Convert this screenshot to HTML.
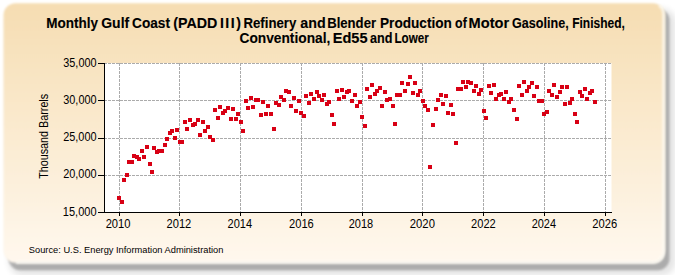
<!DOCTYPE html>
<html><head><meta charset="utf-8"><style>
html,body{margin:0;padding:0;background:#fff;width:675px;height:275px;overflow:hidden}
svg{display:block}
</style></head><body>
<svg width="675" height="275" viewBox="0 0 675 275">
<defs>
<linearGradient id="bg" x1="0" y1="0" x2="0" y2="1">
<stop offset="0" stop-color="#F6DDB2"/>
<stop offset="1" stop-color="#FFF8EE"/>
</linearGradient>
<filter id="sh" x="-10%" y="-10%" width="120%" height="120%"><feGaussianBlur stdDeviation="1.3"/></filter>
<filter id="sh2" x="-10%" y="-10%" width="120%" height="120%"><feGaussianBlur stdDeviation="3"/></filter>
<filter id="pb" filterUnits="userSpaceOnUse" x="0" y="0" width="675" height="275"><feGaussianBlur stdDeviation="0.9"/></filter>
<filter id="pb2" filterUnits="userSpaceOnUse" x="0" y="0" width="675" height="275"><feGaussianBlur stdDeviation="0.5"/></filter>
</defs>
<rect x="0" y="0" width="675" height="275" fill="#fff"/>
<rect x="8.5" y="8.5" width="667" height="267" rx="14" fill="#000" opacity="0.10" filter="url(#sh2)"/>
<rect x="8.5" y="8.5" width="661" height="261.8" rx="12" fill="#000" opacity="0.24" filter="url(#sh)"/>
<rect x="3.5" y="3.2" width="661.3" height="259.6" rx="12" fill="url(#bg)" filter="url(#pb)"/>
<path d="M 659 5.5 Q 663.8 8 663.8 15 L 663.8 250 Q 663.8 262.6 651.2 262.6 L 16 262.6" fill="none" stroke="#fffdf6" stroke-width="3" opacity="0.8" filter="url(#pb)"/>
<rect x="104.5" y="63" width="507" height="149" fill="#fff"/>
<g stroke="#ababab" stroke-width="1" stroke-dasharray="3,1" fill="none">
<line x1="104" y1="63.5" x2="611" y2="63.5"/>
<line x1="104" y1="100.5" x2="611" y2="100.5"/>
<line x1="104" y1="138.5" x2="611" y2="138.5"/>
<line x1="104" y1="175.5" x2="611" y2="175.5"/>
<line x1="119.5" y1="63" x2="119.5" y2="212"/>
<line x1="179.5" y1="63" x2="179.5" y2="212"/>
<line x1="240.5" y1="63" x2="240.5" y2="212"/>
<line x1="301.5" y1="63" x2="301.5" y2="212"/>
<line x1="362.5" y1="63" x2="362.5" y2="212"/>
<line x1="422.5" y1="63" x2="422.5" y2="212"/>
<line x1="483.5" y1="63" x2="483.5" y2="212"/>
<line x1="544.5" y1="63" x2="544.5" y2="212"/>
<line x1="605.5" y1="63" x2="605.5" y2="212"/>
</g>
<g stroke="#000" stroke-width="1" fill="none">
<line x1="104.5" y1="63" x2="104.5" y2="212"/>
<line x1="98" y1="212.5" x2="612" y2="212.5"/>
<line x1="98" y1="63.5" x2="104" y2="63.5"/>
<line x1="98" y1="100.5" x2="104" y2="100.5"/>
<line x1="98" y1="138.5" x2="104" y2="138.5"/>
<line x1="98" y1="175.5" x2="104" y2="175.5"/>
<line x1="98" y1="212.5" x2="104" y2="212.5"/>
<line x1="119.5" y1="212" x2="119.5" y2="216"/>
<line x1="179.5" y1="212" x2="179.5" y2="216"/>
<line x1="240.5" y1="212" x2="240.5" y2="216"/>
<line x1="301.5" y1="212" x2="301.5" y2="216"/>
<line x1="362.5" y1="212" x2="362.5" y2="216"/>
<line x1="422.5" y1="212" x2="422.5" y2="216"/>
<line x1="483.5" y1="212" x2="483.5" y2="216"/>
<line x1="544.5" y1="212" x2="544.5" y2="216"/>
<line x1="605.5" y1="212" x2="605.5" y2="216"/>
</g>
<g fill="#D80014" shape-rendering="crispEdges">
<rect x="117" y="196" width="4" height="4"/>
<rect x="120" y="200" width="4" height="4"/>
<rect x="122" y="178" width="4" height="4"/>
<rect x="125" y="173" width="4" height="4"/>
<rect x="127" y="160" width="4" height="4"/>
<rect x="130" y="160" width="4" height="4"/>
<rect x="132" y="154" width="4" height="4"/>
<rect x="135" y="155" width="4" height="4"/>
<rect x="137" y="157" width="4" height="4"/>
<rect x="140" y="149" width="4" height="4"/>
<rect x="142" y="155" width="4" height="4"/>
<rect x="145" y="145" width="4" height="4"/>
<rect x="148" y="162" width="4" height="4"/>
<rect x="150" y="170" width="4" height="4"/>
<rect x="152" y="146" width="4" height="4"/>
<rect x="155" y="150" width="4" height="4"/>
<rect x="157" y="149" width="4" height="4"/>
<rect x="160" y="149" width="4" height="4"/>
<rect x="163" y="143" width="4" height="4"/>
<rect x="165" y="137" width="4" height="4"/>
<rect x="168" y="131" width="4" height="4"/>
<rect x="170" y="129" width="4" height="4"/>
<rect x="173" y="136" width="4" height="4"/>
<rect x="175" y="128" width="4" height="4"/>
<rect x="178" y="140" width="4" height="4"/>
<rect x="180" y="140" width="4" height="4"/>
<rect x="183" y="120" width="4" height="4"/>
<rect x="185" y="127" width="4" height="4"/>
<rect x="188" y="118" width="4" height="4"/>
<rect x="191" y="123" width="4" height="4"/>
<rect x="193" y="122" width="4" height="4"/>
<rect x="196" y="118" width="4" height="4"/>
<rect x="198" y="133" width="4" height="4"/>
<rect x="201" y="120" width="4" height="4"/>
<rect x="203" y="129" width="4" height="4"/>
<rect x="206" y="125" width="4" height="4"/>
<rect x="208" y="135" width="4" height="4"/>
<rect x="211" y="138" width="4" height="4"/>
<rect x="213" y="108" width="4" height="4"/>
<rect x="216" y="116" width="4" height="4"/>
<rect x="218" y="105" width="4" height="4"/>
<rect x="221" y="111" width="4" height="4"/>
<rect x="223" y="109" width="4" height="4"/>
<rect x="226" y="106" width="4" height="4"/>
<rect x="229" y="117" width="4" height="4"/>
<rect x="231" y="107" width="4" height="4"/>
<rect x="234" y="117" width="4" height="4"/>
<rect x="236" y="112" width="4" height="4"/>
<rect x="239" y="120" width="4" height="4"/>
<rect x="241" y="129" width="4" height="4"/>
<rect x="244" y="99" width="4" height="4"/>
<rect x="246" y="106" width="4" height="4"/>
<rect x="249" y="96" width="4" height="4"/>
<rect x="251" y="105" width="4" height="4"/>
<rect x="254" y="98" width="4" height="4"/>
<rect x="256" y="98" width="4" height="4"/>
<rect x="259" y="113" width="4" height="4"/>
<rect x="261" y="100" width="4" height="4"/>
<rect x="264" y="112" width="4" height="4"/>
<rect x="266" y="104" width="4" height="4"/>
<rect x="269" y="112" width="4" height="4"/>
<rect x="272" y="127" width="4" height="4"/>
<rect x="274" y="101" width="4" height="4"/>
<rect x="277" y="103" width="4" height="4"/>
<rect x="279" y="95" width="4" height="4"/>
<rect x="282" y="98" width="4" height="4"/>
<rect x="284" y="89" width="4" height="4"/>
<rect x="287" y="90" width="4" height="4"/>
<rect x="289" y="104" width="4" height="4"/>
<rect x="292" y="96" width="4" height="4"/>
<rect x="294" y="109" width="4" height="4"/>
<rect x="297" y="99" width="4" height="4"/>
<rect x="299" y="111" width="4" height="4"/>
<rect x="302" y="114" width="4" height="4"/>
<rect x="304" y="94" width="4" height="4"/>
<rect x="307" y="101" width="4" height="4"/>
<rect x="309" y="92" width="4" height="4"/>
<rect x="312" y="97" width="4" height="4"/>
<rect x="315" y="90" width="4" height="4"/>
<rect x="317" y="94" width="4" height="4"/>
<rect x="320" y="98" width="4" height="4"/>
<rect x="322" y="93" width="4" height="4"/>
<rect x="325" y="102" width="4" height="4"/>
<rect x="327" y="100" width="4" height="4"/>
<rect x="330" y="113" width="4" height="4"/>
<rect x="332" y="122" width="4" height="4"/>
<rect x="335" y="89" width="4" height="4"/>
<rect x="337" y="97" width="4" height="4"/>
<rect x="340" y="88" width="4" height="4"/>
<rect x="342" y="95" width="4" height="4"/>
<rect x="345" y="90" width="4" height="4"/>
<rect x="347" y="89" width="4" height="4"/>
<rect x="350" y="99" width="4" height="4"/>
<rect x="353" y="93" width="4" height="4"/>
<rect x="355" y="104" width="4" height="4"/>
<rect x="358" y="100" width="4" height="4"/>
<rect x="360" y="115" width="4" height="4"/>
<rect x="363" y="124" width="4" height="4"/>
<rect x="365" y="87" width="4" height="4"/>
<rect x="368" y="95" width="4" height="4"/>
<rect x="370" y="83" width="4" height="4"/>
<rect x="373" y="92" width="4" height="4"/>
<rect x="375" y="89" width="4" height="4"/>
<rect x="378" y="86" width="4" height="4"/>
<rect x="380" y="104" width="4" height="4"/>
<rect x="383" y="90" width="4" height="4"/>
<rect x="385" y="98" width="4" height="4"/>
<rect x="388" y="97" width="4" height="4"/>
<rect x="391" y="104" width="4" height="4"/>
<rect x="393" y="122" width="4" height="4"/>
<rect x="395" y="93" width="4" height="4"/>
<rect x="398" y="93" width="4" height="4"/>
<rect x="400" y="81" width="4" height="4"/>
<rect x="403" y="89" width="4" height="4"/>
<rect x="406" y="82" width="4" height="4"/>
<rect x="408" y="75" width="4" height="4"/>
<rect x="411" y="91" width="4" height="4"/>
<rect x="413" y="81" width="4" height="4"/>
<rect x="416" y="93" width="4" height="4"/>
<rect x="418" y="89" width="4" height="4"/>
<rect x="421" y="99" width="4" height="4"/>
<rect x="423" y="104" width="4" height="4"/>
<rect x="426" y="108" width="4" height="4"/>
<rect x="428" y="165" width="4" height="4"/>
<rect x="431" y="123" width="4" height="4"/>
<rect x="434" y="107" width="4" height="4"/>
<rect x="436" y="98" width="4" height="4"/>
<rect x="439" y="93" width="4" height="4"/>
<rect x="441" y="102" width="4" height="4"/>
<rect x="444" y="94" width="4" height="4"/>
<rect x="446" y="111" width="4" height="4"/>
<rect x="449" y="103" width="4" height="4"/>
<rect x="451" y="112" width="4" height="4"/>
<rect x="454" y="141" width="4" height="4"/>
<rect x="456" y="87" width="4" height="4"/>
<rect x="459" y="87" width="4" height="4"/>
<rect x="461" y="80" width="4" height="4"/>
<rect x="464" y="85" width="4" height="4"/>
<rect x="466" y="80" width="4" height="4"/>
<rect x="469" y="81" width="4" height="4"/>
<rect x="472" y="89" width="4" height="4"/>
<rect x="474" y="84" width="4" height="4"/>
<rect x="477" y="92" width="4" height="4"/>
<rect x="479" y="88" width="4" height="4"/>
<rect x="482" y="109" width="4" height="4"/>
<rect x="484" y="116" width="4" height="4"/>
<rect x="487" y="84" width="4" height="4"/>
<rect x="489" y="91" width="4" height="4"/>
<rect x="492" y="83" width="4" height="4"/>
<rect x="494" y="97" width="4" height="4"/>
<rect x="497" y="93" width="4" height="4"/>
<rect x="499" y="92" width="4" height="4"/>
<rect x="502" y="97" width="4" height="4"/>
<rect x="504" y="90" width="4" height="4"/>
<rect x="507" y="100" width="4" height="4"/>
<rect x="509" y="97" width="4" height="4"/>
<rect x="512" y="108" width="4" height="4"/>
<rect x="515" y="117" width="4" height="4"/>
<rect x="517" y="84" width="4" height="4"/>
<rect x="520" y="93" width="4" height="4"/>
<rect x="522" y="80" width="4" height="4"/>
<rect x="525" y="89" width="4" height="4"/>
<rect x="527" y="85" width="4" height="4"/>
<rect x="530" y="81" width="4" height="4"/>
<rect x="532" y="94" width="4" height="4"/>
<rect x="535" y="85" width="4" height="4"/>
<rect x="537" y="99" width="4" height="4"/>
<rect x="540" y="99" width="4" height="4"/>
<rect x="542" y="112" width="4" height="4"/>
<rect x="545" y="110" width="4" height="4"/>
<rect x="547" y="89" width="4" height="4"/>
<rect x="550" y="93" width="4" height="4"/>
<rect x="552" y="83" width="4" height="4"/>
<rect x="555" y="95" width="4" height="4"/>
<rect x="558" y="90" width="4" height="4"/>
<rect x="560" y="85" width="4" height="4"/>
<rect x="563" y="102" width="4" height="4"/>
<rect x="565" y="85" width="4" height="4"/>
<rect x="568" y="101" width="4" height="4"/>
<rect x="570" y="97" width="4" height="4"/>
<rect x="573" y="112" width="4" height="4"/>
<rect x="575" y="120" width="4" height="4"/>
<rect x="578" y="90" width="4" height="4"/>
<rect x="580" y="94" width="4" height="4"/>
<rect x="583" y="87" width="4" height="4"/>
<rect x="585" y="97" width="4" height="4"/>
<rect x="588" y="91" width="4" height="4"/>
<rect x="590" y="89" width="4" height="4"/>
<rect x="593" y="100" width="4" height="4"/>
</g>
<g font-family="'Liberation Sans', sans-serif" fill="#000">
<text x="46.35" y="28.1" font-size="14.1" font-weight="bold" stroke="#000" stroke-width="0.12" textLength="51.78" lengthAdjust="spacingAndGlyphs">Monthly</text>
<text x="101.24" y="28.1" font-size="14.1" font-weight="bold" stroke="#000" stroke-width="0.12" textLength="27.95" lengthAdjust="spacingAndGlyphs">Gulf</text>
<text x="132.05" y="28.1" font-size="14.1" font-weight="bold" stroke="#000" stroke-width="0.12" textLength="37.96" lengthAdjust="spacingAndGlyphs">Coast</text>
<text x="173.19" y="28.1" font-size="14.1" font-weight="bold" stroke="#000" stroke-width="0.12" textLength="44.12" lengthAdjust="spacingAndGlyphs">(PADD</text>
<text x="219.91" y="28.1" font-size="14.1" font-weight="bold" stroke="#000" stroke-width="0.12" textLength="20.94" lengthAdjust="spacing">III)</text>
<text x="243.47" y="28.1" font-size="14.1" font-weight="bold" stroke="#000" stroke-width="0.12" textLength="52.88" lengthAdjust="spacingAndGlyphs">Refinery</text>
<text x="300.27" y="28.1" font-size="14.1" font-weight="bold" stroke="#000" stroke-width="0.12" textLength="25.40" lengthAdjust="spacingAndGlyphs">and</text>
<text x="327.18" y="28.1" font-size="14.1" font-weight="bold" stroke="#000" stroke-width="0.12" textLength="48.89" lengthAdjust="spacingAndGlyphs">Blender</text>
<text x="380.05" y="28.1" font-size="14.1" font-weight="bold" stroke="#000" stroke-width="0.12" textLength="71.83" lengthAdjust="spacingAndGlyphs">Production</text>
<text x="455.11" y="28.1" font-size="14.1" font-weight="bold" stroke="#000" stroke-width="0.12" textLength="11.64" lengthAdjust="spacingAndGlyphs">of</text>
<text x="468.58" y="28.1" font-size="14.1" font-weight="bold" stroke="#000" stroke-width="0.12" textLength="40.57" lengthAdjust="spacingAndGlyphs">Motor</text>
<text x="512.10" y="28.1" font-size="14.1" font-weight="bold" stroke="#000" stroke-width="0.12" textLength="56.60" lengthAdjust="spacingAndGlyphs">Gasoline,</text>
<text x="572.16" y="28.1" font-size="14.1" font-weight="bold" stroke="#000" stroke-width="0.12" textLength="52.77" lengthAdjust="spacingAndGlyphs">Finished,</text>
<text x="239.55" y="43.1" font-size="14.1" font-weight="bold" stroke="#000" stroke-width="0.12" textLength="90.73" lengthAdjust="spacingAndGlyphs">Conventional,</text>
<text x="332.78" y="43.1" font-size="14.1" font-weight="bold" stroke="#000" stroke-width="0.12" textLength="34.76" lengthAdjust="spacingAndGlyphs">Ed55</text>
<text x="370.02" y="43.1" font-size="14.1" font-weight="bold" stroke="#000" stroke-width="0.12" textLength="22.44" lengthAdjust="spacingAndGlyphs">and</text>
<text x="394.48" y="43.1" font-size="14.1" font-weight="bold" stroke="#000" stroke-width="0.12" textLength="34.29" lengthAdjust="spacingAndGlyphs">Lower</text>
<text x="63.27" y="66.7" font-size="12.5" textLength="33.25" lengthAdjust="spacingAndGlyphs">35,000</text>
<text x="63.27" y="103.95" font-size="12.5" textLength="33.25" lengthAdjust="spacingAndGlyphs">30,000</text>
<text x="63.15" y="141.2" font-size="12.5" textLength="33.37" lengthAdjust="spacingAndGlyphs">25,000</text>
<text x="63.15" y="178.45" font-size="12.5" textLength="33.37" lengthAdjust="spacingAndGlyphs">20,000</text>
<text x="62.82" y="215.7" font-size="12.5" textLength="33.71" lengthAdjust="spacingAndGlyphs">15,000</text>
<text x="105.64" y="227.6" font-size="12.5" textLength="24.86" lengthAdjust="spacingAndGlyphs">2010</text>
<text x="166.54" y="227.6" font-size="12.5" textLength="24.77" lengthAdjust="spacingAndGlyphs">2012</text>
<text x="227.55" y="227.6" font-size="12.5" textLength="24.53" lengthAdjust="spacingAndGlyphs">2014</text>
<text x="289.04" y="227.6" font-size="12.5" textLength="24.75" lengthAdjust="spacingAndGlyphs">2016</text>
<text x="348.75" y="227.6" font-size="12.5" textLength="24.44" lengthAdjust="spacingAndGlyphs">2018</text>
<text x="409.84" y="227.6" font-size="12.5" textLength="25.07" lengthAdjust="spacingAndGlyphs">2020</text>
<text x="471.05" y="227.6" font-size="12.5" textLength="24.66" lengthAdjust="spacingAndGlyphs">2022</text>
<text x="531.65" y="227.6" font-size="12.5" textLength="24.33" lengthAdjust="spacingAndGlyphs">2024</text>
<text x="592.34" y="227.6" font-size="12.5" textLength="24.86" lengthAdjust="spacingAndGlyphs">2026</text>
<text x="28.84" y="252.7" font-size="9.7" textLength="194.56" lengthAdjust="spacingAndGlyphs">Source: U.S. Energy Information Administration</text>
<text transform="translate(47.8,178.6) rotate(-90)" x="-0.22" y="0" font-size="13.0" textLength="84.97" lengthAdjust="spacingAndGlyphs">Thousand Barrels</text>
</g>
</svg>
</body></html>
